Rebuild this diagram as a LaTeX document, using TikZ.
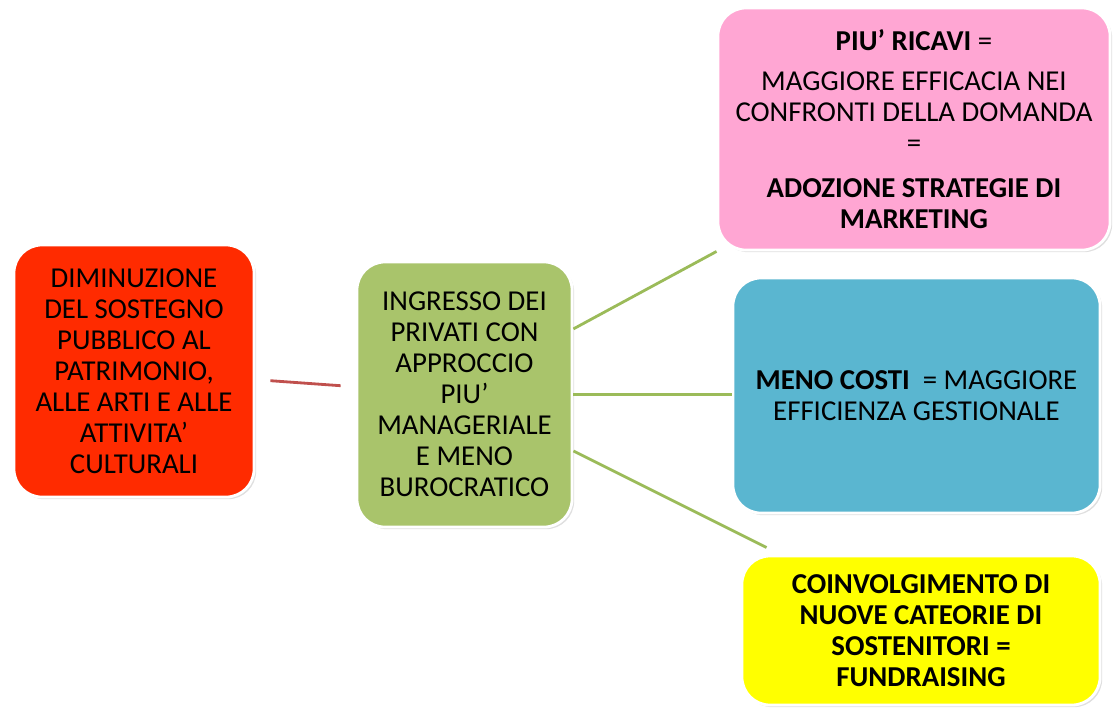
\documentclass[tikz,border=0pt]{standalone}
\usepackage{fontspec}
\setmainfont{Carlito}
\usepackage{xcolor}
\usepackage{tikz}
\usetikzlibrary{shadows}

\definecolor{boxred}{HTML}{FF2B00}
\definecolor{boxgreen}{HTML}{A9C46B}
\definecolor{boxpink}{HTML}{FFA6D3}
\definecolor{boxblue}{HTML}{5AB6D0}
\definecolor{boxyellow}{HTML}{FFFF00}
\definecolor{linered}{HTML}{C0504D}
\definecolor{linegreen}{HTML}{9BBB59}

\tikzset{
  card/.style={rectangle, rounded corners=0.7cm, draw=white, line width=2pt,
    inner sep=0pt, align=flush center,
    drop shadow={shadow xshift=1.5pt, shadow yshift=-1.5pt, opacity=0.25},
    font=\fontsize{20.5}{22}\selectfont},
  link/.style={line width=2pt, color=linegreen}
}

\begin{document}
\begin{tikzpicture}[x=0.025cm, y=-0.025cm]
\useasboundingbox (0,0) rectangle (1113,713);
\node [card, fill=boxred, minimum width=6cm, minimum height=6.3cm, text width=5.6cm] (calo) at (134,371)
  {DIMINUZIONE\\ DEL SOSTEGNO\\ PUBBLICO AL\\ PATRIMONIO,\\ ALLE ARTI E ALLE\\ ATTIVITA'\\ CULTURALI};
\node [card, fill=boxgreen, minimum width=5.375cm, minimum height=6.625cm, text width=5cm] (privati) at (464.5,394.5)
  {INGRESSO DEI\\ PRIVATI CON\\ APPROCCIO\\ PIU'\\ MANAGERIALE\\ E MENO\\ BUROCRATICO};
\node [card, fill=boxpink, minimum width=9.8cm, minimum height=6.05cm, text width=9.6cm] (ricavi) at (914,129)
  {\textbf{PIU' RICAVI} =\\[7pt] MAGGIORE EFFICACIA NEI\\ CONFRONTI DELLA DOMANDA\\ =\\[10pt] \textbf{ADOZIONE STRATEGIE DI}\\ \textbf{MARKETING}};
\node [card, fill=boxblue, minimum width=9.175cm, minimum height=5.875cm, text width=8.9cm] (costi) at (916.5,395.5)
  {\textbf{MENO COSTI}\ \ = MAGGIORE\\ EFFICIENZA GESTIONALE};
\node [card, fill=boxyellow, minimum width=8.95cm, minimum height=3.725cm, text width=8.7cm, font=\fontsize{20.5}{22}\selectfont\bfseries] (fund) at (921,630.5)
  {COINVOLGIMENTO DI\\ NUOVE CATEORIE DI\\ SOSTENITORI =\\ FUNDRAISING};
\draw [line width=2pt, color=linered, shorten <=0.375cm, shorten >=0.375cm] (calo) -- (privati);
\draw [link] ([yshift=1.64cm]privati.east) -- (ricavi.south west);
\draw [link] (privati.east) -- (privati.east -| costi.west);
\draw [link] ([yshift=-1.41cm]privati.east) -- ([xshift=0.65cm, yshift=0.175cm]fund.north west);
\end{tikzpicture}
\end{document}
